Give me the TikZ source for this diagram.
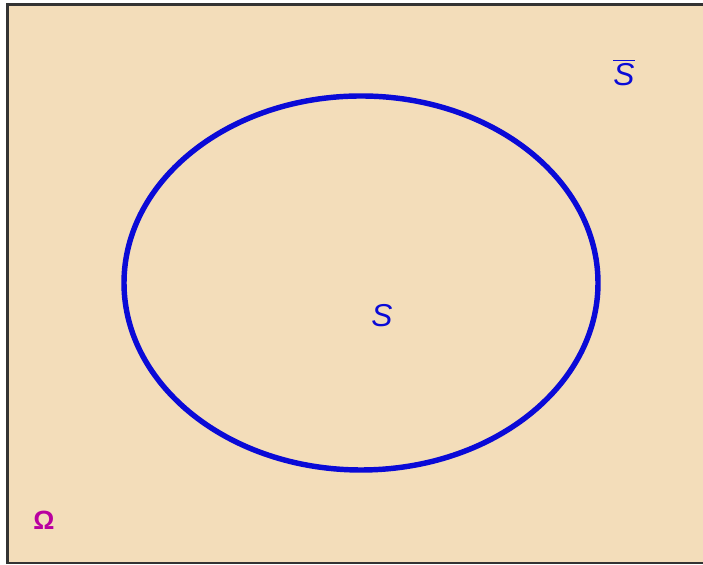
\documentclass[tikz,border=0pt]{standalone}
\usepackage{fontspec}
\setsansfont{Liberation Sans}
\usepackage{tikz}
\usetikzlibrary{positioning}
\definecolor{paper}{RGB}{243,221,186}
\definecolor{setblue}{RGB}{10,10,215}
\definecolor{omegacol}{RGB}{185,0,160}

\begin{document}
\begin{tikzpicture}[
    lbl/.style={font=\sffamily\itshape\fontsize{18}{18}\selectfont, text=setblue, inner sep=0pt},
    om/.style={font=\sffamily\bfseries\fontsize{15}{15}\selectfont, text=omegacol, inner sep=0pt},
    rim/.style={draw=black!80, line width=1.2pt},
    setline/.style={draw=setblue, line width=3.1pt}
  ]
    \useasboundingbox (0,0) rectangle (14.06,11.3);
    \fill[paper] (0.15,0.04) rectangle (14.06,11.21);
    \draw[rim] (14.2,11.21) -- (0.15,11.21) -- (0.15,0.04) -- (14.2,0.04);
    \draw[setline] (7.22,5.64) ellipse [x radius=4.74, y radius=3.74];
    \node[lbl] (S) at (7.64,4.98) {S};
    \node[lbl] (Sc) at (12.48,9.85) {$\overline{\mbox{\sffamily\itshape S}}$};
    \node[om] (Om) at (0.88,0.9) {Ω};
  \end{tikzpicture}
\end{document}
